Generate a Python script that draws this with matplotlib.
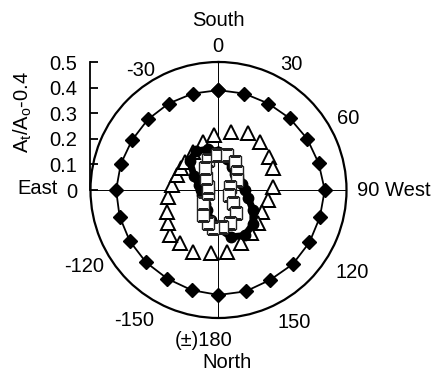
import numpy as np
import matplotlib.pyplot as plt

plt.rcParams['font.family'] = ['Liberation Sans', 'DejaVu Sans']
plt.rcParams['mathtext.fontset'] = 'custom'
plt.rcParams['mathtext.rm'] = 'Liberation Sans'
plt.rcParams['mathtext.it'] = 'Liberation Sans'

# angle in degrees, 0 = South, positive towards West (clockwise)
diamond_ang = [0, 15, 30, 45, 60, 75, 90, 105, 120, 135, 150, 165,
               180, -165, -150, -135, -120, -105, -90, -75, -60, -45, -30, -15, 0]
diamond_r = [0.39, 0.39, 0.39, 0.395, 0.40, 0.405, 0.415, 0.41, 0.41, 0.41,
             0.405, 0.41, 0.41, 0.405, 0.40, 0.40, 0.40, 0.40, 0.40, 0.395,
             0.39, 0.39, 0.39, 0.39, 0.39]

triangle_ang = [12, 27, 41, 57, 68, 87, 101, 117, 130, 143, 157, 172,
                -173, -158, -144, -133, -123, -113, -98, -84, -70, -60, -50,
                -34, -18, -5]
triangle_r = [0.231, 0.25, 0.249, 0.234, 0.231, 0.215, 0.195, 0.192, 0.20,
              0.209, 0.224, 0.245, 0.248, 0.261, 0.255, 0.257, 0.237, 0.217,
              0.201, 0.181, 0.171, 0.168, 0.169, 0.18, 0.198, 0.216]

square_ang = [-20, -2, 14, 31, 46, 62, 76, 117, 131, 143, 160, 174,
              -172, -162, -149, -129, -107, -73, -47, -31]
square_r = [0.125, 0.137, 0.141, 0.128, 0.102, 0.084, 0.048, 0.044, 0.077,
            0.112, 0.137, 0.145, 0.15, 0.136, 0.114, 0.08, 0.041, 0.041,
            0.069, 0.10]

dot_ang = [0, 15, 30, 45, 60, 75, 90, 105, 120, 135, 150, 165,
           180, -165, -150, -135, -120, -105, -90, -75, -60, -45, -30, -15, 0]
dot_r = [0.15, 0.125, 0.105, 0.09, 0.088, 0.095, 0.105, 0.12, 0.155, 0.19,
         0.205, 0.19, 0.15, 0.12, 0.09, 0.075, 0.07, 0.068, 0.07, 0.08,
         0.11, 0.16, 0.175, 0.165, 0.15]

rticks = [0, 0.1, 0.2, 0.3, 0.4, 0.5]
rtick_labels = ['0', '0.1', '0.2', '0.3', '0.4', '0.5']

W, H = 435, 371
fig = plt.figure(figsize=(W / 100, H / 100), dpi=100)
fs = 14.5


def px(x, y):
    return x / W, 1 - y / H


ax = fig.add_axes([90.5 / W, 53 / H, 256 / W, 256 / H], projection='polar')
ax.set_theta_zero_location('N')
ax.set_theta_direction(-1)
ax.set_ylim(0, 0.5)
ax.set_yticks([])
ax.set_xticks(np.deg2rad([0, 90, 180, 270]))
ax.set_xticklabels([])
ax.xaxis.grid(True, color='black', lw=0.7)
ax.spines['polar'].set_linewidth(1.6)

ax.plot(np.deg2rad(diamond_ang), diamond_r, color='black', lw=1.3,
        marker='D', ms=7, mfc='black', mec='black', zorder=3)
ax.plot(np.deg2rad(triangle_ang), triangle_r, ls='none', marker='^', ms=10,
        mfc='white', mec='black', mew=1.4, zorder=4)
ax.plot(np.deg2rad(dot_ang), dot_r, color='black', lw=5, marker='o', ms=7.5,
        mfc='black', mec='black', zorder=5)
ax.plot(np.deg2rad(square_ang), square_r, ls='none', marker='s', ms=9,
        mfc='white', mec='#222222', mew=1.0, zorder=6)

# radial scale drawn on the left
rax = fig.add_axes([90.5 / W, (H - 190) / H, 0.001, 128 / H])
rax.patch.set_visible(False)
for s in ['top', 'right', 'bottom']:
    rax.spines[s].set_visible(False)
rax.spines['left'].set_linewidth(1.3)
rax.set_ylim(0, 0.5)
rax.set_yticks(rticks)
rax.set_yticklabels(rtick_labels, fontsize=fs)
rax.tick_params(axis='y', direction='in', length=6, width=1.3, pad=9.5)
rax.set_xticks([])

labels = [
    ('South', 218, 20), ('0', 218, 47), ('-30', 141, 70), ('30', 291, 65),
    ('60', 348, 119), ('-120', 84, 267), ('120', 352, 272),
    ('-150', 134, 320), ('150', 294, 322), ('(±)180', 204, 341),
    ('North', 227, 363),
]
for txt, x, y in labels:
    fig.text(*px(x, y), txt, fontsize=fs, ha='center', va='center')
fig.text(*px(357, 191), '90 West', fontsize=fs, ha='left', va='center')
fig.text(*px(58, 189), 'East', fontsize=fs, ha='right', va='center')
fig.text(*px(23, 112), r'$\mathregular{A_t/A_o}$-0.4', fontsize=fs,
         rotation=90, ha='center', va='center')

fig.savefig('out.png', dpi=100)
